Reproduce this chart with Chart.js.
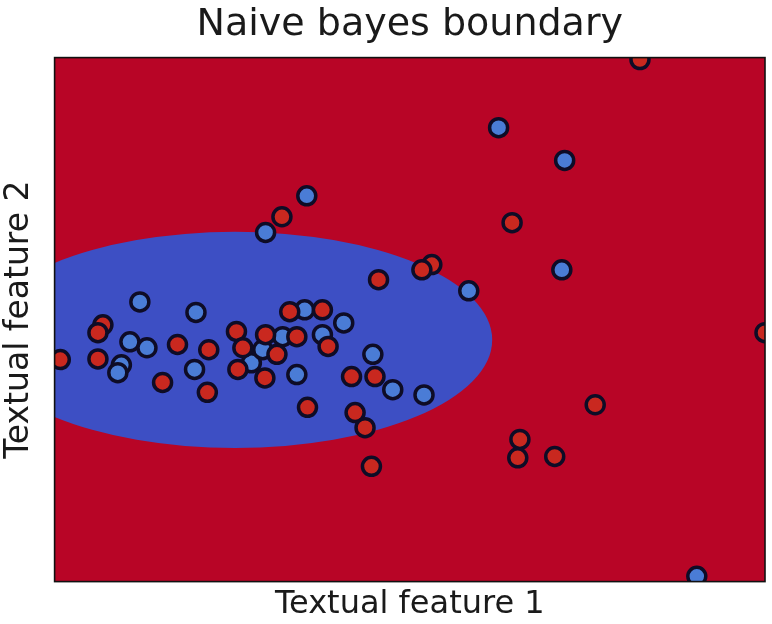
<!DOCTYPE html>
<html>
<head>
<meta charset="utf-8">
<title>Naive bayes boundary</title>
<script src="https://cdn.jsdelivr.net/npm/chart.js@4.4.1/dist/chart.umd.min.js"></script>
<style>
  html, body { margin: 0; padding: 0; background: #ffffff; }
  #wrap { width: 772px; height: 624px; }
</style>
</head>
<body>
<div id="wrap"><canvas id="chart" width="772" height="624"></canvas></div>
<script>
// 类别 1（红色）样本
const redFeature1 = [0.68, 0.61, 1.73, 2.17, 0.08, 0.61, 1.52, 2.15, 2.56, 2.97, 2.65, 2.58,
  2.96, 3.13, 3.41, 3.31, 3.77, 3.85, 3.56, 4.18, 4.51, 4.23, 4.37, 4.46, 4.56, 5.31, 5.17,
  3.20, 8.24, 6.44, 7.61, 6.55, 6.52, 7.04, 10.0];
const redFeature2 = [3.92, 3.80, 3.62, 3.54, 3.39, 3.40, 3.04, 2.89, 3.82, 3.77, 3.57, 3.24,
  3.11, 3.47, 3.74, 4.12, 4.15, 3.59, 2.66, 3.13, 3.13, 2.58, 2.35, 1.76, 4.61, 4.84, 4.76,
  5.57, 7.97, 5.48, 2.70, 2.17, 1.89, 1.91, 3.80];

// 类别 0（蓝色）样本
const blueFeature1 = [1.20, 1.99, 1.06, 1.30, 0.94, 0.89, 1.97, 2.77, 3.21, 3.52, 3.77, 4.07,
  3.41, 4.48, 4.76, 5.20, 5.83, 3.55, 2.97, 6.25, 7.18, 7.14, 9.04, 2.93];
const blueFeature2 = [4.27, 4.11, 3.66, 3.57, 3.31, 3.19, 3.24, 3.34, 3.74, 4.15, 3.77, 3.95,
  3.16, 3.47, 2.93, 2.85, 4.44, 5.89, 5.33, 6.93, 6.43, 4.76, 0.08, 3.54];

// 决策边界（椭圆，数据坐标）
const boundaryCenter = [2.54, 3.69];
const boundaryRadius = [3.62, 1.65];

// 坐标范围
const feature1Range = [0, 10];
const feature2Range = [0, 8];

const RED_REGION = '#b80526';
const BLUE_REGION = '#3d4fc4';
const RED_POINT = '#c9281f';
const BLUE_POINT = '#4a7cd6';
const EDGE = '#0e0c26';

const toPoints = (xs, ys) => xs.map((x, i) => ({ x, y: ys[i] }));

// 背景区域 + 外框
const decisionRegions = {
  id: 'decisionRegions',
  beforeDatasetsDraw(chart) {
    const { ctx, chartArea: area, scales: { x, y } } = chart;
    ctx.save();
    ctx.beginPath();
    ctx.rect(area.left, area.top, area.width, area.height);
    ctx.clip();
    ctx.fillStyle = RED_REGION;
    ctx.fillRect(area.left, area.top, area.width, area.height);

    const cx = x.getPixelForValue(boundaryCenter[0]);
    const cy = y.getPixelForValue(boundaryCenter[1]);
    const rx = Math.abs(x.getPixelForValue(boundaryCenter[0] + boundaryRadius[0]) - cx);
    const ry = Math.abs(y.getPixelForValue(boundaryCenter[1] + boundaryRadius[1]) - cy);
    ctx.beginPath();
    ctx.ellipse(cx, cy, rx, ry, 0, 0, Math.PI * 2);
    ctx.fillStyle = BLUE_REGION;
    ctx.fill();
    ctx.restore();
  },
  afterDatasetsDraw(chart) {
    const { ctx, chartArea: area } = chart;
    ctx.save();
    ctx.strokeStyle = '#111111';
    ctx.lineWidth = 1.6;
    ctx.strokeRect(area.left, area.top, area.width, area.height);
    ctx.restore();
  }
};

Chart.defaults.font.family = "'DejaVu Sans', 'Liberation Sans', sans-serif";
Chart.defaults.color = '#1a1a1a';

const pointStyle = {
  pointRadius: 9,
  pointHoverRadius: 9,
  borderWidth: 3.5,
  borderColor: EDGE,
  clip: 0
};

const hiddenAxis = {
  ticks: { display: false },
  grid: { display: false, drawTicks: false },
  border: { display: false }
};

new Chart(document.getElementById('chart'), {
  type: 'scatter',
  data: {
    datasets: [
      {
        label: 'class 1',
        data: toPoints(redFeature1, redFeature2),
        backgroundColor: RED_POINT,
        ...pointStyle
      },
      {
        label: 'class 0',
        data: toPoints(blueFeature1, blueFeature2),
        backgroundColor: BLUE_POINT,
        ...pointStyle
      }
    ]
  },
  options: {
    responsive: false,
    animation: false,
    events: [],
    layout: { autoPadding: false, padding: { top: 0, right: 7, bottom: 0, left: 0 } },
    plugins: {
      legend: { display: false },
      tooltip: { enabled: false },
      title: { display: false }
    },
    scales: {
      x: {
        type: 'linear',
        min: feature1Range[0],
        max: feature1Range[1],
        ...hiddenAxis,
        title: {
          display: true,
          text: 'Textual feature 1',
          font: { size: 32 },
          padding: { top: 4, bottom: 0 }
        }
      },
      // 顶部轴只用于把标题居中在绘图区上方
      top: {
        type: 'linear',
        position: 'top',
        min: feature1Range[0],
        max: feature1Range[1],
        ...hiddenAxis,
        title: {
          display: true,
          text: 'Naive bayes boundary',
          font: { size: 38 },
          padding: { top: 2, bottom: 10 }
        }
      },
      y: {
        type: 'linear',
        min: feature2Range[0],
        max: feature2Range[1],
        ...hiddenAxis,
        title: {
          display: true,
          text: 'Textual feature 2',
          font: { size: 33 },
          padding: { top: 0, bottom: 15 }
        }
      }
    }
  },
  plugins: [decisionRegions]
});
</script>
</body>
</html>
